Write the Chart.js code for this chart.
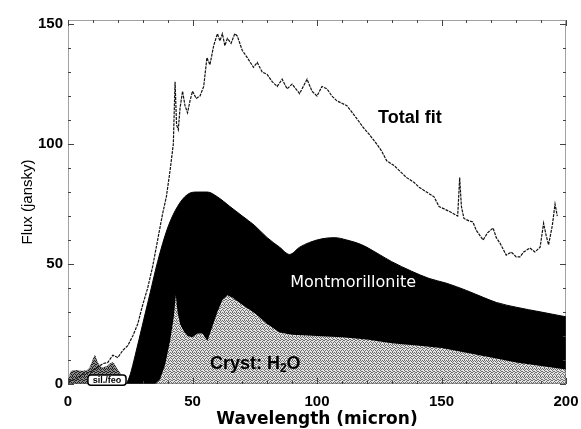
<!DOCTYPE html>
<html>
<head>
<meta charset="utf-8">
<script src="https://cdn.jsdelivr.net/npm/chart.js@4/dist/chart.umd.min.js"></script>
<style>
  html, body { margin: 0; padding: 0; background: #fff; }
  #wrap { width: 581px; height: 429px; }
</style>
</head>
<body>
<div id="wrap"><canvas id="fluxChart" width="581" height="429"></canvas></div>
<script>
// axis ticks
const wlTicks = [0, 50, 100, 150, 200];
const fluxTicks = [0, 50, 100, 150];

// Total fit (noisy spectrum)
const totalWl = [0, 3, 6, 9, 12, 14, 16, 18, 20, 22, 24, 26, 28, 30, 32, 34, 36, 38, 39.5, 41, 42.3, 43, 43.6, 44.3, 45, 46, 47, 48, 49, 50, 51.5, 53, 54.5, 55.8, 57, 58.5, 60, 61, 62, 63, 64, 65.5, 67, 68, 70, 72, 74.5, 76, 78, 80, 82, 84, 86, 88, 90, 93, 96, 98, 100, 102, 104, 106, 108, 110, 112, 115, 118.5, 121, 124, 126, 128, 131, 134, 136, 139, 141, 144, 147, 149, 153, 156.5, 157.3, 158, 159, 161, 162.6, 164, 166.7, 168.5, 170.7, 172, 173.5, 176, 178, 180, 181.5, 183, 185.5, 187.5, 189.6, 191, 192, 193, 194.5, 195.6, 196.5];
const totalFlux = [1, 2, 4, 5, 7, 8.5, 9, 12, 11, 14, 16, 20, 25, 33, 40, 49, 60, 71, 78, 89, 100, 126, 108, 106, 115, 122, 116, 113, 118, 122, 119, 120, 124, 136, 133, 141, 146, 143, 146, 141, 144, 142, 146, 145, 139, 136, 132, 134, 130, 129, 126, 124, 127, 123, 125, 121, 127, 122, 120, 124, 123, 120, 118, 117, 116, 112, 107, 104, 100, 97, 93, 91, 88, 86, 84, 82, 80, 78, 74, 72, 70, 86, 74, 69, 68, 67.5, 64, 60, 63, 65, 61, 58.7, 53.7, 55, 53, 53, 55, 56.7, 55, 57, 67, 62, 58, 66, 75, 70];

// Montmorillonite (black area)
const montWl = [23.5, 25, 27, 30, 33, 36, 40, 44, 48, 52, 56, 60, 65, 70, 75, 80, 85, 89, 93, 97, 102, 107, 112, 118, 125, 130, 138, 145, 152, 160, 167, 172, 180, 190, 200];
const montFlux = [0, 4, 12, 25, 38, 51, 65, 74, 79, 80, 80, 78, 74, 70, 66, 61, 57, 54, 57, 59, 60.5, 61, 60, 58, 54, 51, 47, 44, 42, 39, 36, 34, 32, 30, 28];

// Cryst. H2O (grey area)
const iceWl = [35, 37, 39, 41, 42.5, 43.3, 44, 45, 46.5, 48, 50, 52, 54, 56, 58, 60, 62, 64, 66, 70, 75, 80, 85, 90, 100, 110, 120, 130, 140, 150, 160, 170, 180, 190, 200];
const iceFlux = [0, 2, 8, 18, 28, 37, 30, 25, 22, 20, 19.5, 21, 21, 18, 24, 30, 35, 37, 36, 33, 29.5, 25, 21.5, 20.5, 20, 19.5, 18.5, 17, 16, 15, 13, 11, 9, 7.5, 6];

// sil./feo (dark grey area)
const silWl = [0, 1, 3, 6, 8, 9.5, 10.8, 12, 13.6, 15.5, 18, 20, 22, 23.5];
const silFlux = [0, 5, 5.8, 5.5, 6, 9, 12, 9, 7, 7.5, 9, 6, 3, 0];

function pts(xs, ys) {
  return xs.map((x, i) => ({ x: x, y: ys[i] }));
}

// small dither tile: 1 = dark pixel
function makePattern(dark, light) {
  const mask = [
    '1010', '0101', '1000', '0110',
    '1001', '0010', '0101', '1000'
  ];
  const c = document.createElement('canvas');
  c.width = 4; c.height = 8;
  const g = c.getContext('2d');
  g.fillStyle = light; g.fillRect(0, 0, 4, 8);
  g.fillStyle = dark;
  mask.forEach((row, r) => {
    for (let k = 0; k < 4; k++) if (row[k] === '1') g.fillRect(k, r, 1, 1);
  });
  return g.createPattern(c, 'repeat');
}

const icePattern = makePattern('#6e6e6e', '#e4e4e4');
const silPattern = makePattern('#1e1e1e', '#8a8a8a');

// frame with dotted border and small inward ticks
const framePlugin = {
  id: 'frame',
  afterDatasetsDraw(chart) {
    const ctx = chart.ctx;
    const a = chart.chartArea;
    const xs = chart.scales.x, ys = chart.scales.y;
    ctx.save();
    ctx.strokeStyle = '#444';
    ctx.lineWidth = 1;
    ctx.setLineDash([1, 1]);
    ctx.strokeRect(a.left + 0.5, a.top + 0.5, a.right - a.left - 1, a.bottom - a.top - 1);
    ctx.setLineDash([]);
    ctx.beginPath();
    for (let v = 0; v <= 200; v += 10) {
      const px = Math.round(xs.getPixelForValue(v)) + 0.5;
      const len = v % 50 === 0 ? 6 : 3;
      ctx.moveTo(px, a.top); ctx.lineTo(px, a.top + len);
      ctx.moveTo(px, a.bottom); ctx.lineTo(px, a.bottom - len);
    }
    for (let v = 0; v <= 150; v += 10) {
      const py = Math.round(ys.getPixelForValue(v)) + 0.5;
      const len = v % 50 === 0 ? 6 : 3;
      ctx.moveTo(a.left, py); ctx.lineTo(a.left + len, py);
      ctx.moveTo(a.right, py); ctx.lineTo(a.right - len, py);
    }
    ctx.stroke();
    ctx.restore();
  }
};

// in-plot labels
const labelPlugin = {
  id: 'labels',
  afterDraw(chart) {
    const ctx = chart.ctx;
    const xs = chart.scales.x, ys = chart.scales.y;
    ctx.save();
    ctx.textBaseline = 'middle';

    ctx.fillStyle = '#000';
    ctx.textAlign = 'center';
    ctx.font = 'bold 18px "Liberation Sans", Arial, sans-serif';
    ctx.fillText('Total fit', xs.getPixelForValue(137.3), ys.getPixelForValue(110.8));

    ctx.fillStyle = '#fff';
    ctx.font = '16px "DejaVu Sans", sans-serif';
    ctx.fillText('Montmorillonite', xs.getPixelForValue(114.5), ys.getPixelForValue(42));

    // Cryst: H2O with subscript
    ctx.fillStyle = '#000';
    ctx.textAlign = 'left';
    let x = xs.getPixelForValue(57);
    const y = ys.getPixelForValue(8.5);
    ctx.font = 'bold 18px "Liberation Sans", Arial, sans-serif';
    ctx.fillText('Cryst: H', x, y);
    x += ctx.measureText('Cryst: H').width;
    ctx.font = 'bold 12px "Liberation Sans", Arial, sans-serif';
    ctx.fillText('2', x, y + 5);
    x += ctx.measureText('2').width;
    ctx.font = 'bold 18px "Liberation Sans", Arial, sans-serif';
    ctx.fillText('O', x, y);

    // sil./feo tag
    const bx = xs.getPixelForValue(8), bw = xs.getPixelForValue(23.3) - bx;
    const by = ys.getPixelForValue(3.8), bh = ys.getPixelForValue(-0.5) - by;
    ctx.fillStyle = '#fff';
    ctx.strokeStyle = '#000';
    ctx.lineWidth = 1.5;
    ctx.beginPath();
    ctx.roundRect(bx, by, bw, bh, 3);
    ctx.fill();
    ctx.stroke();
    ctx.fillStyle = '#000';
    ctx.textAlign = 'center';
    ctx.font = 'bold 9px "Liberation Sans", Arial, sans-serif';
    ctx.fillText('sil./feo', bx + bw / 2, by + bh / 2 + 0.5);
    ctx.restore();
  }
};

const ctx = document.getElementById('fluxChart').getContext('2d');
const fluxChart = new Chart(ctx, {
  type: 'line',
  data: {
    datasets: [{
      label: 'Total fit',
      data: pts(totalWl, totalFlux),
      borderColor: '#111',
      borderWidth: 1.2,
      borderDash: [3, 1],
      fill: false,
      tension: 0,
      order: 0
    }, {
      label: 'sil./feo',
      data: pts(silWl, silFlux),
      borderColor: '#333',
      borderWidth: 0,
      backgroundColor: silPattern,
      fill: 'origin',
      tension: 0.3,
      order: 1
    }, {
      label: 'Cryst: H2O',
      data: pts(iceWl, iceFlux),
      borderColor: '#777',
      borderWidth: 0,
      backgroundColor: icePattern,
      fill: 'origin',
      tension: 0,
      order: 2
    }, {
      label: 'Montmorillonite',
      data: pts(montWl, montFlux),
      borderColor: '#000',
      borderWidth: 1,
      backgroundColor: '#000',
      fill: 'origin',
      cubicInterpolationMode: 'monotone',
      order: 3
    }]
  },
  options: {
    responsive: false,
    animation: false,
    events: [],
    elements: { point: { radius: 0 } },
    layout: { padding: { top: 20, right: 15, left: 0, bottom: 0 } },
    plugins: {
      legend: { display: false },
      tooltip: { enabled: false }
    },
    scales: {
      x: {
        type: 'linear',
        min: 0,
        max: 200,
        afterBuildTicks: s => { s.ticks = wlTicks.map(v => ({ value: v })); },
        afterFit: s => { s.height = 45; s.paddingLeft = 0; s.paddingRight = 0; },
        grid: { display: false, drawTicks: false },
        border: { display: false },
        ticks: {
          color: '#000',
          padding: 9,
          maxRotation: 0,
          font: { family: '"Liberation Sans", Arial, sans-serif', weight: 'bold', size: 15 }
        },
        title: {
          display: true,
          text: 'Wavelength (micron)',
          color: '#000',
          padding: { top: 0, bottom: 0 },
          font: { family: '"DejaVu Sans", sans-serif', weight: 'bold', size: 17, lineHeight: 1.1 }
        }
      },
      y: {
        type: 'linear',
        min: 0,
        max: 151.7,
        afterBuildTicks: s => { s.ticks = fluxTicks.map(v => ({ value: v })); },
        afterFit: s => { s.width = 68; s.paddingTop = 0; s.paddingBottom = 0; },
        grid: { display: false, drawTicks: false },
        border: { display: false },
        ticks: {
          color: '#000',
          padding: 5,
          font: { family: '"Liberation Sans", Arial, sans-serif', weight: 'bold', size: 15 }
        },
        title: {
          display: true,
          text: 'Flux (jansky)',
          color: '#000',
          padding: { top: 19, bottom: 0 },
          font: { family: '"Liberation Sans", Arial, sans-serif', size: 15, lineHeight: 1.2 }
        }
      }
    }
  },
  plugins: [framePlugin, labelPlugin]
});
</script>
</body>
</html>
